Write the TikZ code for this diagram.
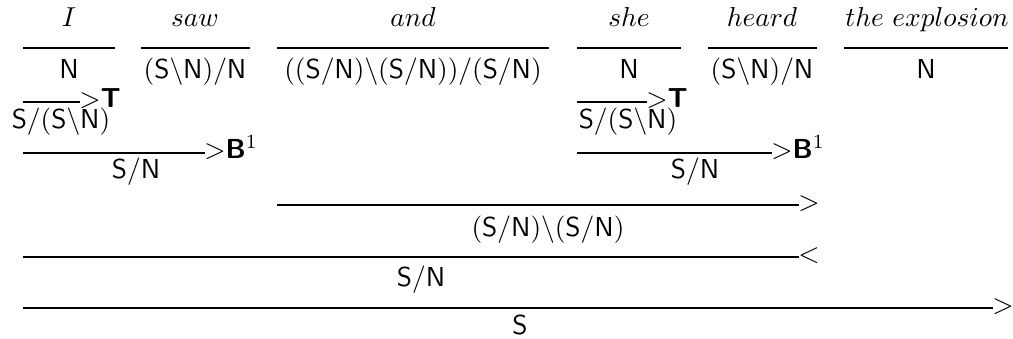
\documentclass[tikz,border=0pt]{standalone}
\usetikzlibrary{positioning,calc}
\newcommand{\catx}[1]{$\mathsf{#1}$}
\tikzset{
  word/.style={anchor=base,inner sep=0pt,font=\fontsize{11}{13}\selectfont},
  cat/.style={anchor=base,inner sep=0pt,font=\fontsize{11}{13}\selectfont},
  rule/.style={line width=0.45pt},
  rulelab/.style={anchor=mid west,inner sep=0pt,xshift=-0.5pt,font=\fontsize{11}{13}\selectfont}
}

\begin{document}
\begin{tikzpicture}[x=0.4pt,y=-0.4pt]
  \useasboundingbox (0,0) rectangle (1013,339);
  % words
  \node[word] (wI)     at (69,27)  {$I$};
  \node[word] (wsaw)   at (195,27) {$saw$};
  \node[word] (wand)   at (413,27) {$and$};
  \node[word] (wshe)   at (629,27) {$she$};
  \node[word] (wheard) at (762,27) {$heard$};
  \node[word] (wexpl)  at (927,27) {$the$\hspace{3.5pt}$explosion$};
  % lexical rules
  \coordinate (lI0)     at (23,48);  \coordinate (lI1)     at (115,48);
  \coordinate (lsaw0)   at (141,48); \coordinate (lsaw1)   at (250,48);
  \coordinate (land0)   at (277,48); \coordinate (land1)   at (549,48);
  \coordinate (lshe0)   at (577,48); \coordinate (lshe1)   at (681,48);
  \coordinate (lheard0) at (708,48); \coordinate (lheard1) at (817,48);
  \coordinate (lexpl0)  at (844,48); \coordinate (lexpl1)  at (1008,48);
  \draw[rule] (lI0) -- (lI1);
  \draw[rule] (lsaw0) -- (lsaw1);
  \draw[rule] (land0) -- (land1);
  \draw[rule] (lshe0) -- (lshe1);
  \draw[rule] (lheard0) -- (lheard1);
  \draw[rule] (lexpl0) -- (lexpl1);
  % lexical categories
  \node[cat] (cI)     at (69,79)  {\catx{N}};
  \node[cat] (csaw)   at (195,79) {\catx{(S\backslash N)/N}};
  \node[cat] (cand)   at (413,79) {\catx{((S/N)\backslash(S/N))/(S/N)}};
  \node[cat] (cshe)   at (629,79) {\catx{N}};
  \node[cat] (cheard) at (762,79) {\catx{(S\backslash N)/N}};
  \node[cat] (cexpl)  at (926,79) {\catx{N}};
  % type raising
  \coordinate (tI0)   at (23,102);  \coordinate (tI1)   at (80,102);
  \coordinate (tshe0) at (577,102); \coordinate (tshe1) at (647,102);
  \draw[rule] (tI0) -- (tI1) node[rulelab] (tIlab) {$>$\textsf{\textbf{T}}};
  \draw[rule] (tshe0) -- (tshe1) node[rulelab] (tshelab) {$>$\textsf{\textbf{T}}};
  \node[cat] (rI)   at (61,128)  {\catx{S/(S\backslash N)}};
  \node[cat] (rshe) at (628,128) {\catx{S/(S\backslash N)}};
  % composition
  \coordinate (bI0)   at (23,153);  \coordinate (bI1)   at (205,153);
  \coordinate (bshe0) at (577,153); \coordinate (bshe1) at (772,153);
  \draw[rule] (bI0) -- (bI1) node[rulelab] (bIlab) {$>$\textsf{\textbf{B}}$^1$};
  \draw[rule] (bshe0) -- (bshe1) node[rulelab] (bshelab) {$>$\textsf{\textbf{B}}$^1$};
  \node[cat] (rIsaw)     at (136,179) {\catx{S/N}};
  \node[cat] (rsheheard) at (695,179) {\catx{S/N}};
  % coordination
  \coordinate (a0) at (277,205); \coordinate (a1) at (799,205);
  \draw[rule] (a0) -- (a1) node[rulelab] (alab) {$>$};
  \node[cat] (rand) at (548,236) {\catx{(S/N)\backslash(S/N)}};
  \coordinate (c0) at (23,257); \coordinate (c1) at (799,257);
  \draw[rule] (c0) -- (c1) node[rulelab] (clab) {$<$};
  \node[cat] (rconj) at (421,286) {\catx{S/N}};
  \coordinate (s0) at (23,308); \coordinate (s1) at (993,308);
  \draw[rule] (s0) -- (s1) node[rulelab] (slab) {$>$};
  \node[cat] (rS) at (520,334) {\catx{S}};
\end{tikzpicture}
\end{document}
